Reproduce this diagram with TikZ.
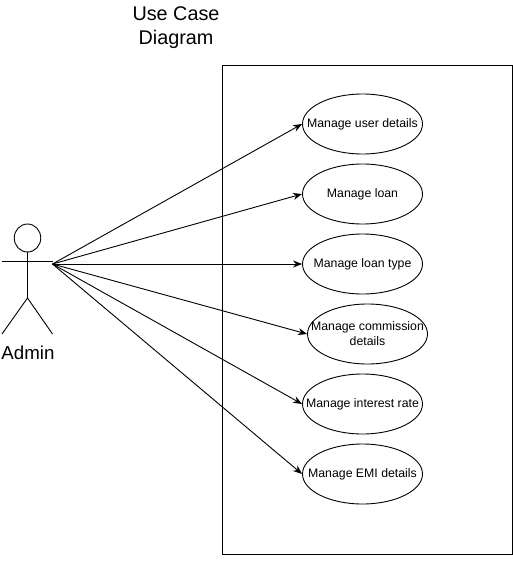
\documentclass[tikz,border=0pt]{standalone}
\usepackage{fontspec}
\setmainfont{Liberation Sans}
\usetikzlibrary{arrows.meta,shapes.geometric}
\tikzset{
  usecase/.style={ellipse,draw=black,fill=white,line width=0.9pt,minimum width=120pt,minimum height=60pt,inner sep=0pt},
  uctext/.style={align=center,inner sep=0pt,font=\fontsize{12.3}{15}\selectfont},
  assoc/.style={draw=black,line width=0.9pt,-{Stealth[length=9pt,width=7pt]}},
  stick/.style={draw=black,line width=0.9pt},
  biglabel/.style={align=center,inner sep=0pt,font=\fontsize{18.7}{24}\selectfont},
  titlelabel/.style={align=center,inner sep=0pt,font=\fontsize{19.8}{24}\selectfont}
}
\begin{document}
\begin{tikzpicture}[x=1pt,y=-1pt]
\useasboundingbox (0,0) rectangle (513,563);
\node[titlelabel] (title) at (176,27.5) {Use Case\\Diagram};
\node[draw=black,line width=0.9pt,minimum width=290pt,minimum height=489pt,inner sep=0pt] (system) at (367,309.5) {};
\node[usecase,label={[uctext]center:Manage user details}] (uc1) at (362.5,124) {};
\node[usecase,label={[uctext]center:Manage loan}] (uc2) at (362.5,194) {};
\node[usecase,label={[uctext]center:Manage loan type}] (uc3) at (362.5,264) {};
\node[usecase,label={[uctext]center:Manage commission\\details}] (uc4) at (367.5,334) {};
\node[usecase,label={[uctext]center:Manage interest rate}] (uc5) at (362.5,404) {};
\node[usecase,label={[uctext]center:Manage EMI details}] (uc6) at (362.5,474) {};
% actor
\node[ellipse,stick,minimum width=26.5pt,minimum height=28pt,inner sep=0pt] (head) at (27.5,238) {};
\coordinate (armL) at (2,261);
\coordinate (armR) at (52.5,264);
\coordinate (armRe) at (52.5,261);
\coordinate (hip) at (27.5,298);
\coordinate (legL) at (2,334);
\coordinate (legR) at (52.5,334);
\draw[stick] (head.south) -- (hip);
\draw[stick] (armL) -- (armRe);
\draw[stick] (legL) -- (hip) -- (legR);
\node[biglabel] (admin) at (28,353) {Admin};
\foreach \t in {uc1,uc2,uc3,uc4,uc5,uc6}{
  \draw[assoc] (armR) -- (\t.west);
}
\end{tikzpicture}
\end{document}
